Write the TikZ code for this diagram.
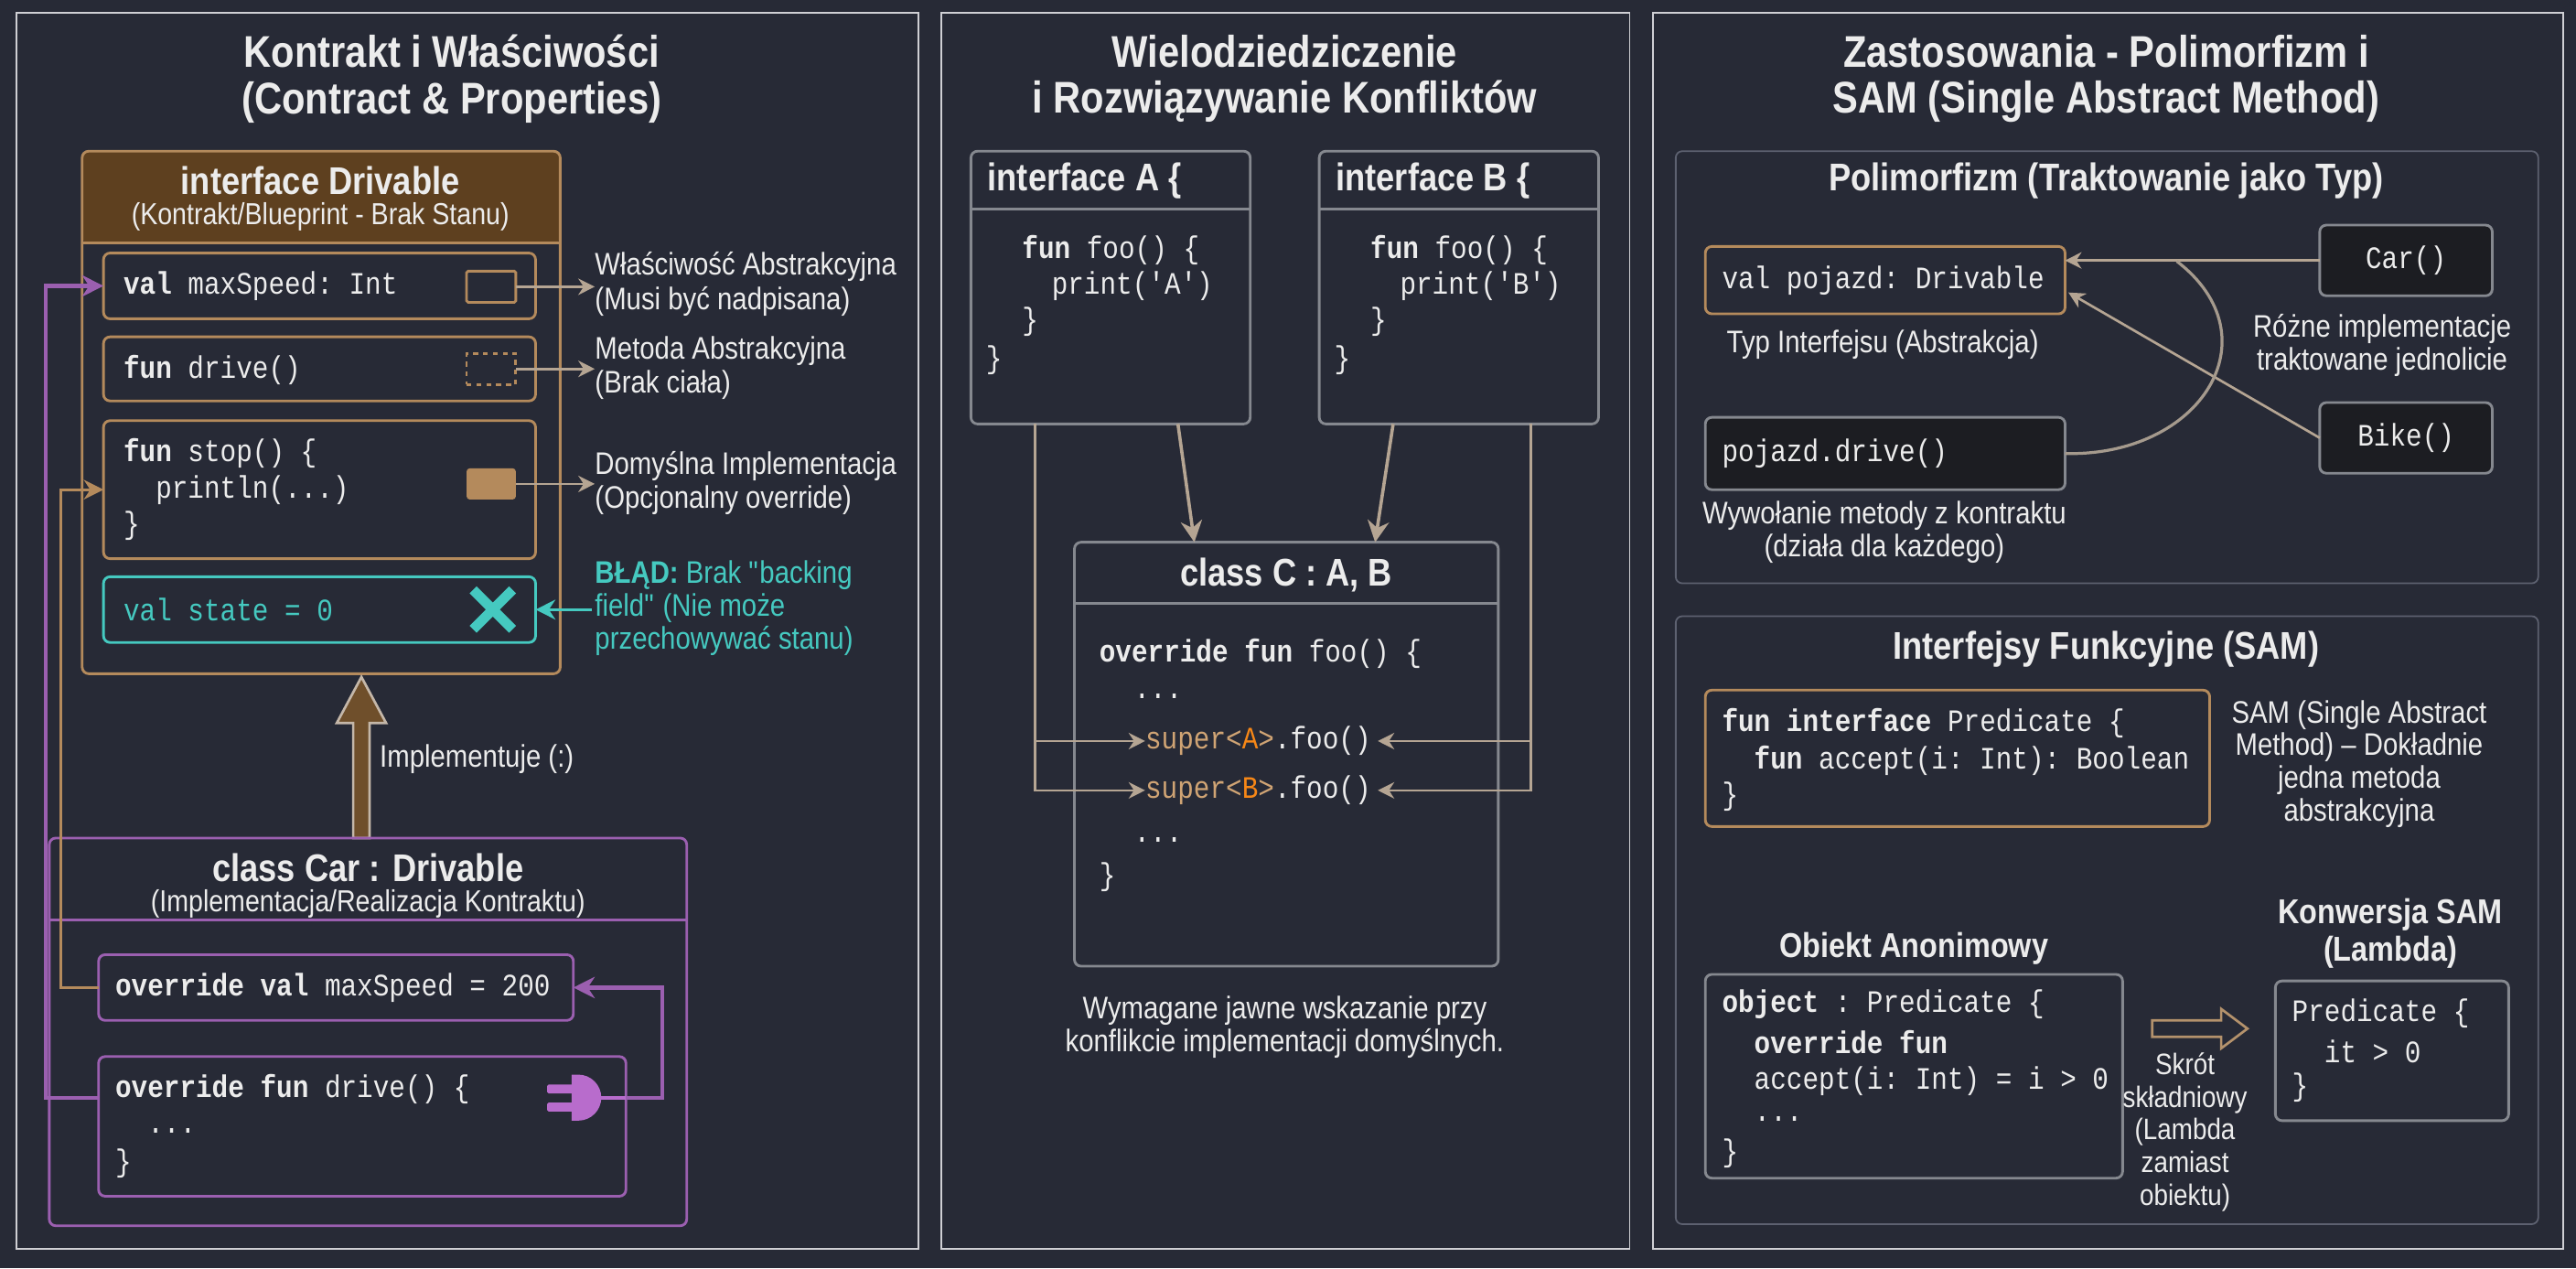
\documentclass[tikz,border=0pt]{standalone}
\usepackage{fontspec}
\setmainfont{Liberation Sans}[FakeStretch=0.86]
\setmonofont{Liberation Mono}[FakeStretch=0.86]
\usetikzlibrary{arrows.meta}
\definecolor{bg}{HTML}{272A36}
\definecolor{pan}{HTML}{CFCFD4}
\definecolor{tan}{HTML}{B48A5C}
\definecolor{hbrown}{HTML}{5E401F}
\definecolor{agray}{HTML}{B5A593}
\definecolor{teal}{HTML}{45C9C0}
\definecolor{purp}{HTML}{9B5FB0}
\definecolor{plugc}{HTML}{B86CCC}
\definecolor{gbox}{HTML}{85888F}
\definecolor{sub}{HTML}{5D6170}
\definecolor{dark}{HTML}{1C1D22}
\definecolor{ctan}{HTML}{D0A474}
\definecolor{txt}{HTML}{ECECEC}
\newcommand{\bx}[6]{\node[#6, minimum width={(#4-#2)*1pt}, minimum height={(#5-#3)*1pt}] (#1) at ({(#2+#4)/2},{(#3+#5)/2}) {};}
\begin{document}
\begin{tikzpicture}[x=1pt,y=-1pt,
  base/.style={draw, inner sep=0, outer sep=0, rounded corners=4pt},
  panel/.style={draw=pan, line width=1pt, inner sep=0, outer sep=0},
  tbox/.style={base, draw=tan, line width=1.6pt},
  pbox/.style={base, draw=purp, line width=1.6pt},
  gbx/.style={base, draw=gbox, line width=1.6pt},
  dbx/.style={base, draw=gbox, fill=dark, line width=1.6pt},
  sbx/.style={base, draw=sub, line width=1pt},
  ttl/.style={text=txt, font=\bfseries\fontsize{27}{28}\selectfont, align=center, inner sep=0},
  hd/.style={text=txt, font=\bfseries\fontsize{23.5}{26}\selectfont, align=center, inner sep=0},
  sm/.style={text=txt, font=\fontsize{19}{20}\selectfont, align=center, inner sep=0},
  lbl/.style={text=txt, font=\fontsize{19}{21}\selectfont, align=left, anchor=west, inner sep=0},
  code/.style={text=txt, font=\ttfamily\fontsize{19}{21}\selectfont, anchor=west, inner sep=0},
  arr/.style={draw=agray, line width=1.5pt, -{Stealth[length=10pt,width=10pt]}},
  parr/.style={draw=purp, line width=2.4pt, -{Stealth[length=13pt,width=13pt]}},
  tarr/.style={draw=tan, line width=1.6pt, -{Stealth[length=12pt,width=12pt]}},
]
\useasboundingbox (0,0) rectangle (1568,772);
\fill[bg] (0,0) rectangle (1568,772);
% panels
\bx{P1}{10}{8}{559}{760}{panel}
\bx{P2}{573}{8}{992}{760}{panel}
\bx{P3}{1006}{8}{1560}{760}{panel}
\node[ttl] (t1) at (275,48) {Kontrakt i Właściwości\\(Contract \& Properties)};
\node[ttl] (t2) at (782,48) {Wielodziedziczenie\\i Rozwiązywanie Konfliktów};
\node[ttl] (t3) at (1282,48) {Zastosowania - Polimorfizm i\\SAM (Single Abstract Method)};

% ---------- Panel 1 ----------
\fill[hbrown, rounded corners=4pt] (50,92) rectangle (341,148);
\bx{ifc}{50}{92}{341}{410}{tbox}
\draw[tan, line width=1.6pt] (50,148) -- (341,148);
\node[hd] (ifct) at (195,110) {interface Drivable};
\node[sm, font=\fontsize{18.5}{20}\selectfont] (ifcs) at (195,132) {(Kontrakt/Blueprint - Brak Stanu)};
\bx{r1}{63}{154}{326}{194}{tbox}
\bx{r2}{63}{205}{326}{244}{tbox}
\bx{r3}{63}{256}{326}{340}{tbox}
\bx{r4}{63}{351}{326}{391}{base, draw=teal, line width=1.6pt}
\node[code] (c1) at (75,174) {\textbf{val} maxSpeed: Int};
\node[code] (c2) at (75,225) {\textbf{fun} drive()};
\node[code] (c3a) at (75,276) {\textbf{fun} stop() \{};
\node[code] (c3b) at (75,298) {\ \ println(...)};
\node[code] (c3c) at (75,320) {\}};
\node[code, text=teal] (c4) at (75,371) {val state = 0};
\bx{s1}{284}{165}{314}{184}{draw=tan, line width=1.6pt, inner sep=0, outer sep=0, rounded corners=1pt}
\bx{s2}{284}{215}{314}{234}{draw=tan, dashed, line width=1.6pt, inner sep=0, outer sep=0}
\bx{s3}{284}{285}{314}{304}{fill=tan, inner sep=0, outer sep=0, rounded corners=2pt}
\draw[teal, line width=6pt] (288,359) -- (312,383) (312,359) -- (288,383);
\node[lbl] (l1) at (362,173) {Właściwość Abstrakcyjna\\(Musi być nadpisana)};
\node[lbl] (l2) at (362,224) {Metoda Abstrakcyjna\\(Brak ciała)};
\node[lbl] (l3) at (362,294) {Domyślna Implementacja\\(Opcjonalny override)};
\node[lbl, text=teal, font=\fontsize{19}{20}\selectfont] (l4) at (362,370) {\textbf{BŁĄD:} Brak \textquotedbl backing\\field\textquotedbl{} (Nie może\\przechowywać stanu)};
\draw[arr] (s1.east) -- (s1.east -| l1.west);
\draw[arr] (s2.east) -- (s2.east -| l2.west);
\draw[arr] (s3.east) -- (s3.east -| l3.west);
\draw[draw=teal, line width=2pt, -{Stealth[length=12pt,width=12pt]}] (l4.west |- r4.east) ++(-2,0) -- (r4.east);

% Implements arrow
\filldraw[fill=hbrown!80!tan, draw=agray!80!white, line width=1.5pt] (215,510) -- (215,440) -- (205,440) -- (220,412) -- (235,440) -- (225,440) -- (225,510) -- cycle;
\node[lbl] (impl) at (231,462) {Implementuje (:)};

% class Car
\bx{car}{30}{510}{418}{746}{pbox}
\draw[purp, line width=1.6pt] (30,560) -- (418,560);
\node[hd] (cart) at (224,528) {class Car : Drivable};
\node[sm, font=\fontsize{18.5}{20}\selectfont] (cars) at (224,550) {(Implementacja/Realizacja Kontraktu)};
\bx{ra}{60}{581}{349}{621}{pbox}
\bx{rb}{60}{643}{381}{728}{pbox}
\node[code] (ca) at (70,601) {\textbf{override val} maxSpeed = 200};
\node[code] (cb1) at (70,663) {\textbf{override fun} drive() \{};
\node[code] (cb2) at (70,688) {\ \ ...};
\node[code] (cb3) at (70,708) {\}};
% plug
\coordinate (plug) at (355,668);
\fill[plugc] (348,654) -- (352,654) arc (-90:90:14) -- (348,682) -- cycle;
\fill[plugc, rounded corners=1pt] (333,660) rectangle (350,665.5);
\fill[plugc, rounded corners=1pt] (333,671) rectangle (350,676.5);
\draw[plugc, line width=2.4pt] (364,668) -- (381,668);
\coordinate (pr) at (403,668);
\coordinate (tl) at (37,601);
\coordinate (pl) at (28,668);
\draw[parr] (381,668) -- (pr) |- (ra.east);
\draw[tarr] (ra.west) -- (tl) |- (r3.west);
\draw[parr] (rb.west |- pl) -- (pl) |- (r1.west);

% ---------- Panel 2 ----------
\bx{iA}{591}{92}{761}{258}{gbx}
\bx{iB}{803}{92}{973}{258}{gbx}
\draw[gbox, line width=1.6pt] (591,127) -- (761,127) (803,127) -- (973,127);
\node[hd, anchor=west] (iAt) at (601,110) {interface A \{};
\node[hd, anchor=west] (iBt) at (813,110) {interface B \{};
\node[code] (a1) at (622,152) {\textbf{fun} foo() \{};
\node[code] (a2) at (640,174) {print('A')};
\node[code] (a3) at (622,196) {\}};
\node[code] (a4) at (600,219) {\}};
\node[code] (b1) at (834,152) {\textbf{fun} foo() \{};
\node[code] (b2) at (852,174) {print('B')};
\node[code] (b3) at (834,196) {\}};
\node[code] (b4) at (812,219) {\}};
\bx{cC}{654}{330}{912}{588}{gbx}
\draw[gbox, line width=1.6pt] (654,367) -- (912,367);
\node[hd] (cCt) at (783,350) {class C : A, B};
\node[code] (k1) at (669,398) {\textbf{override fun} foo() \{};
\node[code] (k2) at (690,424) {...};
\node[code] (k3) at (697,451) {\textcolor{ctan}{super<}\textcolor{orange!80!ctan}{A}\textcolor{ctan}{>}.foo()};
\node[code] (k4) at (697,481) {\textcolor{ctan}{super<}\textcolor{orange!80!ctan}{B}\textcolor{ctan}{>}.foo()};
\node[code] (k5) at (690,511) {...};
\node[code] (k6) at (669,534) {\}};
\draw[arr, line width=2pt, -{Stealth[length=13pt,width=13pt]}] (717,258) -- (727,330);
\draw[arr, line width=2pt, -{Stealth[length=13pt,width=13pt]}] (848,258) -- (837,330);
\coordinate (la) at (630,481);
\coordinate (lb) at (932,481);
\draw[arr] (630,258) -- (630,451) -- (k3.west);
\draw[arr] (630,451) -- (la) -- (k4.west);
\draw[arr] (932,258) -- (932,451) -- ([xshift=4pt]k3.east);
\draw[arr] (932,451) -- (lb) -- ([xshift=4pt]k4.east);
\node[sm] (cap2) at (782,625) {Wymagane jawne wskazanie przy\\konflikcie implementacji domyślnych.};

% ---------- Panel 3 ----------
\bx{S1}{1020}{92}{1545}{355}{sbx}
\node[hd] (S1t) at (1282,110) {Polimorfizm (Traktowanie jako Typ)};
\bx{vp}{1038}{150}{1257}{191}{tbox}
\node[code] (vpt) at (1048,171) {val pojazd: Drivable};
\node[sm] (vpc) at (1146,210) {Typ Interfejsu (Abstrakcja)};
\bx{carB}{1412}{137}{1517}{180}{dbx}
\node[code, anchor=center] (carT) at (carB) {Car()};
\bx{bikeB}{1412}{245}{1517}{288}{dbx}
\node[code, anchor=center] (bikeT) at (bikeB) {Bike()};
\node[sm] (rz) at (1450,210) {Różne implementacje\\traktowane jednolicie};
\bx{pd}{1038}{254}{1257}{298}{dbx}
\node[code] (pdt) at (1048,276) {pojazd.drive()};
\node[sm] (pdc) at (1147,324) {Wywołanie metody z kontraktu\\(działa dla każdego)};
\draw[arr] (carB.west) -- (vp.east |- carB.west);
\draw[arr] (bikeB.west) -- (1259,178);
\draw[agray!70!gray, line width=1.8pt] (pd.east) .. controls (1340,278) and (1385,205) .. (1325,159);

\bx{S2}{1020}{375}{1545}{745}{sbx}
\node[hd] (S2t) at (1282,395) {Interfejsy Funkcyjne (SAM)};
\bx{pr}{1038}{420}{1345}{503}{tbox}
\node[code] (p1) at (1048,440) {\textbf{fun interface} Predicate \{};
\node[code] (p2) at (1048,463) {\ \ \textbf{fun} accept(i: Int): Boolean};
\node[code] (p3) at (1048,485) {\}};
\node[sm] (samt) at (1436,465) {SAM (Single Abstract\\Method) – Dokładnie\\jedna metoda\\abstrakcyjna};
\node[hd, font=\bfseries\fontsize{21}{24}\selectfont] (oa) at (1165,577) {Obiekt Anonimowy};
\bx{ob}{1038}{593}{1292}{717}{gbx}
\node[code] (o1) at (1048,611) {\textbf{object} : Predicate \{};
\node[code] (o2) at (1048,634) {\ \ \textbf{override fun}};
\node[code] (o3) at (1048,658) {\ \ accept(i: Int) = i > 0};
\node[code] (o4) at (1048,681) {\ \ ...};
\node[code] (o5) at (1048,702) {\}};
\filldraw[fill=bg, draw=tan!70!agray, line width=1.5pt] (1310,621) -- (1352,621) -- (1352,614) -- (1368,626) -- (1352,638) -- (1352,631) -- (1310,631) -- cycle;
\node[sm, font=\fontsize{18}{20}\selectfont] (skr) at (1330,689) {Skrót\\składniowy\\(Lambda\\zamiast\\obiektu)};
\node[hd, font=\bfseries\fontsize{21}{23}\selectfont] (ks) at (1455,568) {Konwersja SAM\\(Lambda)};
\bx{lam}{1385}{597}{1527}{682}{gbx}
\node[code] (m1) at (1395,617) {Predicate \{};
\node[code] (m2) at (1395,640) {\ \ it > 0};
\node[code] (m3) at (1395,662) {\}};
\end{tikzpicture}
\end{document}
